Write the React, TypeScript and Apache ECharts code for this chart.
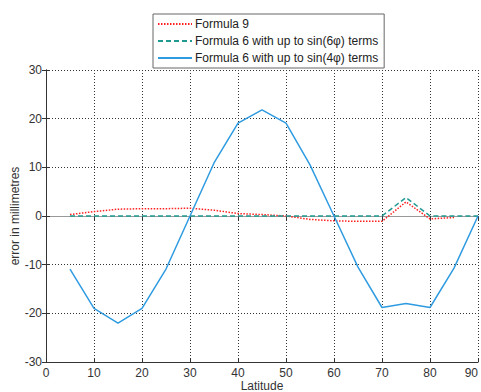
import React, { useEffect, useRef } from "react";
import * as echarts from "echarts";

const latitudes = [5, 10, 15, 20, 25, 30, 35, 40, 45, 50, 55, 60, 65, 70, 75, 80, 85, 90];
const formula9 = [0.3, 0.9, 1.4, 1.5, 1.5, 1.6, 1.2, 0.5, 0.3, 0, -0.7, -1.0, -1.1, -1.1, 2.9, -0.6, -0.3];
const formula6six = [0, 0, 0, 0, 0, 0, 0, 0, 0, 0, 0, 0, 0, 0, 3.8, 0, 0, 0];
const formula6four = [-10.9, -19, -22, -19, -10.9, 0, 10.9, 19.1, 21.8, 19.1, 10.5, 0, -10.5, -18.8, -18, -18.8, -10.7, 0];
const xTicks = { min: 0, max: 90, interval: 10 };
const yTicks = { min: -30, max: 30, interval: 10 };
const seriesNames = [
  "Formula 9",
  "Formula 6 with up to sin(6φ) terms",
  "Formula 6 with up to sin(4φ) terms",
];

const pairs = (ys: number[]) => ys.map((y, i) => [latitudes[i], y]);

export default function App() {
  const ref = useRef<HTMLDivElement>(null);
  useEffect(() => {
    if (!ref.current) return;
    const chart = echarts.init(ref.current, null, { renderer: "svg" });
    const font = "Liberation Sans";
    const gridLine = { show: true, lineStyle: { color: "#333", type: [1, 2], width: 1 } };
    chart.setOption({
      animation: false,
      backgroundColor: "#fff",
      textStyle: { fontFamily: font },
      grid: { left: 46, right: 3, top: 70, bottom: 30, outerBoundsMode: "none", containLabel: false },
      legend: {
        orient: "vertical",
        left: 153,
        top: 14,
        width: 238,
        padding: [4, 6, 4, 4],
        itemGap: 5,
        itemWidth: 34,
        itemHeight: 14,
        borderColor: "#666",
        borderWidth: 1,
        backgroundColor: "#fff",
        itemStyle: { opacity: 0 },
        textStyle: { fontFamily: font, fontSize: 12, color: "#222", padding: [0, 0, 0, -2] },
        data: seriesNames,
      },
      xAxis: [
        {
          type: "value",
          ...xTicks,
          name: "Latitude",
          nameLocation: "middle",
          nameGap: 18,
          nameMoveOverlap: false,
          nameTextStyle: { fontFamily: font, fontSize: 12, color: "#333" },
          axisLine: { show: true, onZero: false, lineStyle: { color: "#333", width: 1 } },
          axisTick: { show: true, inside: true, length: 4, lineStyle: { color: "#333" } },
          axisLabel: { fontFamily: font, fontSize: 12, color: "#333", margin: 5, alignMaxLabel: "right" },
          splitLine: gridLine,
        },
        {
          type: "value",
          position: "top",
          ...xTicks,
          axisLine: { show: true, lineStyle: { color: "#999", width: 1 } },
          axisTick: { show: true, inside: true, length: 4, lineStyle: { color: "#333" } },
          axisLabel: { show: false },
          splitLine: { show: false },
        },
      ],
      yAxis: [
        {
          type: "value",
          ...yTicks,
          name: "error in millimetres",
          nameLocation: "middle",
          nameGap: 25,
          nameMoveOverlap: false,
          nameTextStyle: { fontFamily: font, fontSize: 12, color: "#333" },
          axisLine: { show: true, onZero: false, lineStyle: { color: "#333", width: 1 } },
          axisTick: { show: true, inside: true, length: 4, lineStyle: { color: "#333" } },
          axisLabel: { fontFamily: font, fontSize: 12, color: "#333", margin: 4 },
          splitLine: gridLine,
        },
        {
          type: "value",
          position: "right",
          ...yTicks,
          axisLine: { show: true, lineStyle: { color: "#333", width: 1 } },
          axisTick: { show: true, inside: true, length: 4, lineStyle: { color: "#333" } },
          axisLabel: { show: false },
          splitLine: { show: false },
        },
      ],
      series: [
        {
          name: seriesNames[0],
          type: "line",
          data: pairs(formula9),
          showSymbol: false,
          symbol: "none",
          color: "#ff2020",
          lineStyle: { color: "#ff2020", width: 1.5, type: [1.5, 1.5] },
          z: 3,
        },
        {
          name: seriesNames[1],
          type: "line",
          data: pairs(formula6six),
          showSymbol: false,
          symbol: "none",
          color: "#1f9a92",
          lineStyle: { color: "#1f9a92", width: 1.5, type: [5, 3] },
          z: 4,
        },
        {
          name: seriesNames[2],
          type: "line",
          data: pairs(formula6four),
          showSymbol: false,
          symbol: "none",
          color: "#2f9be0",
          lineStyle: { color: "#2f9be0", width: 1.5 },
          z: 5,
        },
      ],
    });
    return () => chart.dispose();
  }, []);
  return <div ref={ref} style={{ width: 481, height: 392, position: "absolute", left: 0, top: 0 }} />;
}
